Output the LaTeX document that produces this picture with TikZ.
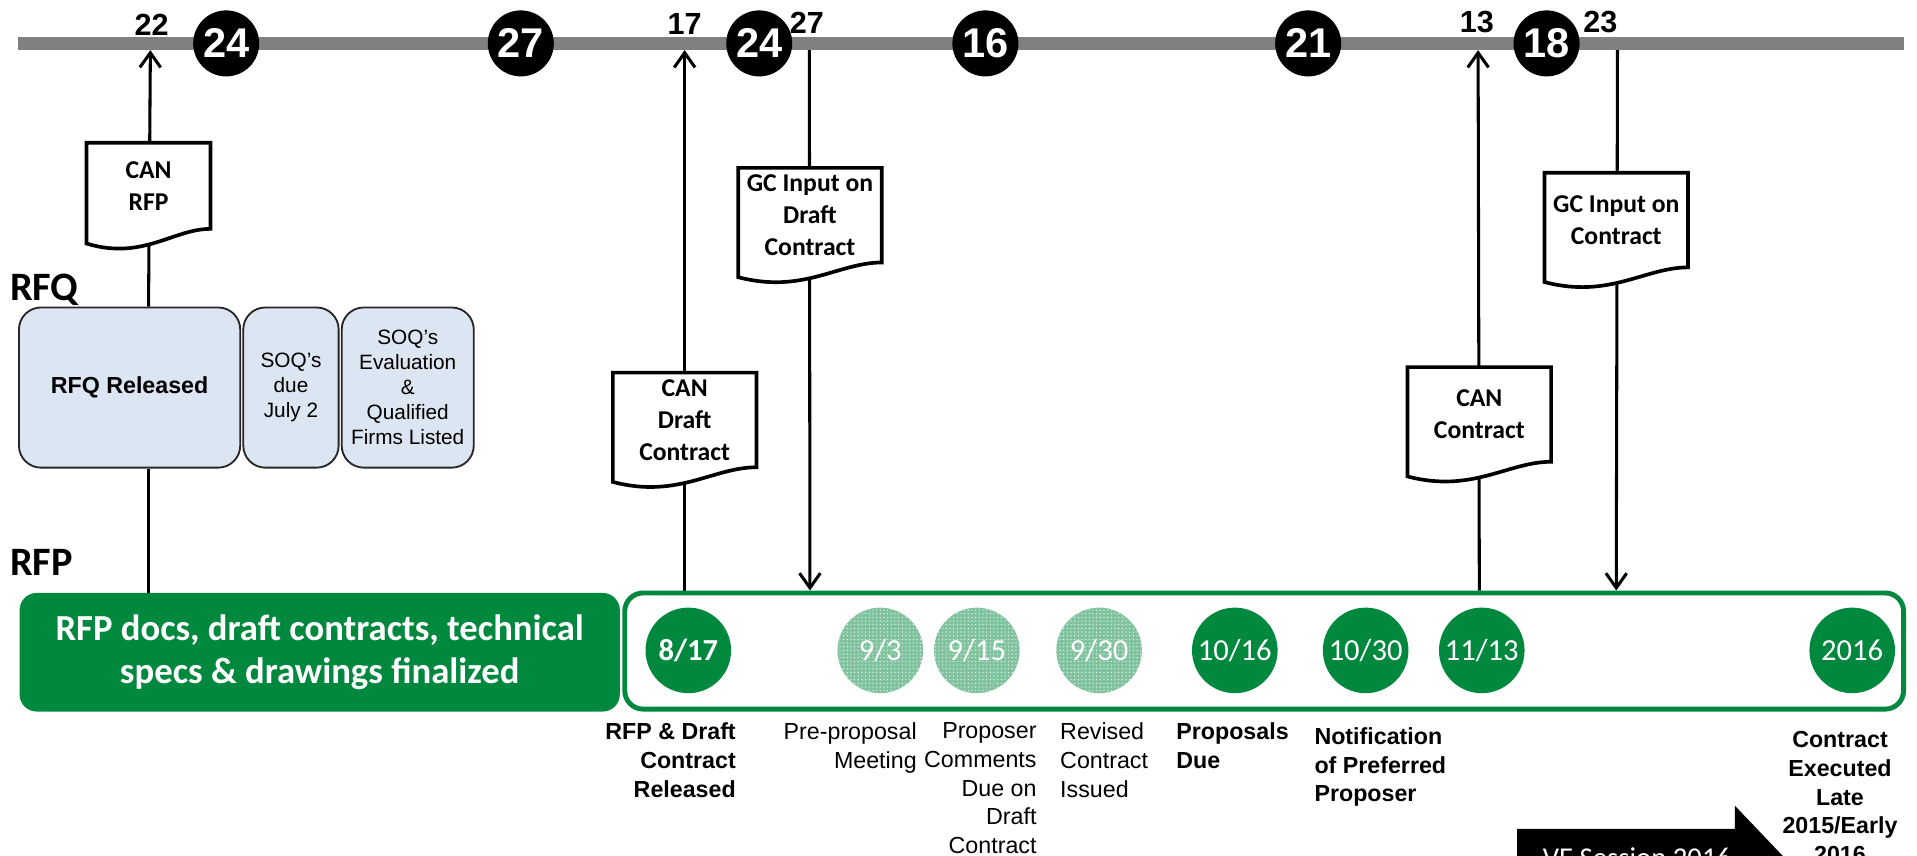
\documentclass[tikz,border=0pt]{standalone}
\usepackage{fontspec}
\setmainfont{Liberation Sans}
\newfontfamily\calib{Carlito}
\usetikzlibrary{positioning, calc, arrows.meta, patterns, backgrounds}

\definecolor{rfpgreen}{RGB}{0,136,62}
\definecolor{bargray}{RGB}{128,128,128}
\definecolor{rfqblue}{RGB}{220,230,242}

\newcommand{\fsz}[2]{\fontsize{#1}{#2}\selectfont}

% document symbol round a named node, wavy bottom hanging below it
\newcommand{\docoutline}[1]{%
  \draw[docline] ($(#1.south west)+(0pt,-12pt)$) -- (#1.north west) -- (#1.north east) -- (#1.south east)
    .. controls ($(#1.south west)!0.7!(#1.south east)$) and ($(#1.south west)!0.45!(#1.south east)+(0pt,-26pt)$)
    .. ($(#1.south west)+(0pt,-12pt)$) -- cycle;}

\tikzset{
  timebar/.style={line width=10pt, bargray},
  daycirc/.style={circle, fill=black, text=white, minimum size=54pt, inner sep=0pt, font=\bfseries\fsz{34}{34}},
  daynum/.style={inner sep=0pt, font=\bfseries\fsz{25}{25}},
  docbox/.style={inner sep=0pt, minimum width=117pt, minimum height=77pt, align=center, font=\calib\bfseries\fsz{21}{26}},
  docline/.style={line width=3pt, fill=white},
  conn/.style={line width=2.5pt},
  endtip/.style={-{Straight Barb[length=12pt,width=17pt]}},
  rfqbox/.style={draw=black!85, line width=1.5pt, fill=rfqblue, rounded corners=18pt, minimum height=131pt, inner sep=2pt, align=center, font=\fsz{17}{20.5}},
  phaselabel/.style={inner sep=0pt, anchor=west, font=\calib\bfseries\fsz{33}{33}},
  datecirc/.style={circle, fill=rfpgreen, text=white, minimum size=70pt, inner sep=0pt, font=\calib\fsz{25}{25}},
  softcirc/.style={datecirc, fill=rfpgreen!50, postaction={pattern=dots, pattern color=white}},
  evlabel/.style={inner sep=0pt, font=\fsz{19}{23.5}},
  evbold/.style={inner sep=0pt, font=\bfseries\fsz{19}{23.5}},
}

\begin{document}
\begin{tikzpicture}[x=1pt, y=-1pt]
  \useasboundingbox (0,0) rectangle (1568,700);
  \clip (0,0) rectangle (1568,700);

  % time line with month marks
  \draw[timebar] (15,35.5) -- (1557,35.5);
  \foreach \d/\x in {24/185, 27/426, 24/621, 16/806, 21/1070, 18/1265}
    \node[daycirc] (wk\x) at (\x,35.5) {\d};
  \node[daynum] (d22) at (124,20) {22};
  \node[daynum] (d17) at (560,20) {17};
  \node[daynum] (d27) at (660,19) {27};
  \node[daynum] (d13) at (1208,18) {13};
  \node[daynum] (d23) at (1309,18) {23};
  \coordinate (t22) at (123,41);
  \coordinate (t17) at (560,41);
  \coordinate (t27) at (662,41);
  \coordinate (t13) at (1209,41);
  \coordinate (t23) at (1323,41);

  % RFQ phase
  \node[phaselabel] (rfqlab) at (8,237) {RFQ};
  \node[rfqbox, minimum width=181pt, font=\bfseries\fsz{19}{19}] (rfqrel) at (106,317) {RFQ Released};
  \node[rfqbox, minimum width=78pt, right=1pt of rfqrel] (soqdue) {SOQ's\\due\\July 2};
  \node[rfqbox, minimum width=108pt, right=1pt of soqdue] (soqeval) {SOQ's\\Evaluation\\\&\\Qualified\\Firms Listed};

  % RFP phase
  \node[phaselabel] (rfplab) at (8,460) {RFP};
  \node[fill=rfpgreen, rounded corners=14pt, minimum width=491pt, minimum height=97pt, text=white, align=center,
        font=\calib\bfseries\fsz{30}{35}] (rfpfin) at (261.5,533.5) {RFP docs, draft contracts, technical\\specs \& drawings finalized};
  \node[draw=rfpgreen, line width=4pt, fill=white, rounded corners=15pt, minimum width=1046pt, minimum height=95pt] (rfpframe) at (1034,532.5) {};

  \node[datecirc, font=\calib\bfseries\fsz{25}{25}] (c817) at (563,532) {8/17};
  \node[softcirc] (c93) at (720,532) {9/3};
  \node[softcirc] (c915) at (799,532) {9/15};
  \node[softcirc] (c930) at (899,532) {9/30};
  \node[datecirc] (c1016) at (1010,532) {10/16};
  \node[datecirc] (c1030) at (1117,532) {10/30};
  \node[datecirc] (c1113) at (1212,532) {11/13};
  \node[datecirc] (c2016) at (1515,532) {2016};

  \node[evbold, anchor=north east, align=right] (lrel) at (602,591) {RFP \& Draft\\Contract\\Released};
  \node[evlabel, anchor=north east, align=right] (lpre) at (750,591) {Pre-proposal\\Meeting};
  \node[evlabel, anchor=north east, align=right] (lcomm) at (848,591) {Proposer\\Comments\\Due on\\Draft\\Contract};
  \node[evlabel, anchor=north west, align=left] (lrev) at (867,591) {Revised\\Contract\\Issued};
  \node[evbold, anchor=north west, align=left] (ldue) at (962,591) {Proposals\\Due};
  \node[evbold, anchor=north west, align=left] (lnotif) at (1075,595) {Notification\\of Preferred\\Proposer};
  \node[evbold, anchor=north, align=center] (lexec) at (1505,598) {Contract\\Executed\\Late\\2015/Early\\2016};

  % VE session arrow
  \fill (1241,678) -- (1419,678) -- (1419,659) -- (1460,702) -- (1419,745) -- (1419,726) -- (1241,726) -- cycle;
  \node[text=white, inner sep=0pt, font=\calib\fsz{23.5}{23.5}] (vesess) at (1339,701.5) {VE Session 2016};

  % notices
  \node[docbox, minimum width=101pt, minimum height=70pt] (canrfp) at (121.5,152) {CAN\\RFP};
  \node[docbox] (gcdraft) at (662.5,176) {GC Input on\\Draft\\Contract};
  \node[docbox] (candraft) at (560,343.5) {CAN\\Draft\\Contract};
  \node[docbox] (cancontr) at (1210,339) {CAN\\Contract};
  \node[docbox] (gccontr) at (1322,180) {GC Input on\\Contract};

  \begin{scope}[on background layer]
    \draw[conn, endtip] (canrfp |- rfqrel.north) -- (t22);
    \draw[conn] (canrfp |- rfqrel.south) -- (canrfp |- rfpfin.north);
    \draw[conn, endtip] (candraft |- rfpframe.north) -- (t17);
    \draw[conn, endtip] (t27) -- (gcdraft |- rfpframe.north);
    \draw[conn, endtip] (cancontr |- rfpframe.north) -- (t13);
    \draw[conn, endtip] (t23) -- (gccontr |- rfpframe.north);
    \docoutline{canrfp}
    \docoutline{gcdraft}
    \docoutline{candraft}
    \docoutline{cancontr}
    \docoutline{gccontr}
  \end{scope}
\end{tikzpicture}
\end{document}
